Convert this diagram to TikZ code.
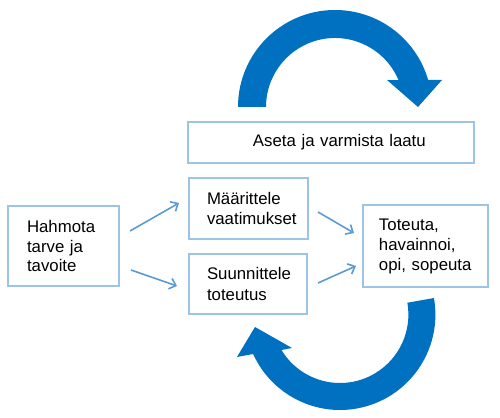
\documentclass[tikz,border=0pt]{standalone}
\usepackage{fontspec}
\setmainfont{Liberation Sans}
\usepackage{xcolor}
\usepackage{tikz}
\usetikzlibrary{arrows.meta}

\definecolor{boxline}{HTML}{9DC3E6}
\definecolor{linkline}{HTML}{5B9BD5}
\definecolor{cycleblue}{HTML}{0070C0}

\begin{document}
\begin{tikzpicture}[x=0.5pt, y=0.5pt,
    box/.style={draw=boxline, line width=1pt, fill=white, align=left,
        inner ysep=0pt, font=\fontsize{8.4}{10}\selectfont},
    link/.style={draw=linkline, line width=0.8pt,
        -{Straight Barb[length=3pt, width=5.5pt]}},
    cyclearrow/.style={fill=cycleblue}]
    \useasboundingbox (0, 0) rectangle (500, 418);

    % nodes
    \node [box, inner xsep=9.5pt, text width=36.5pt, minimum height=40pt]
        (hahmota) at (63.5, 172) {Hahmota\\tarve ja\\tavoite};
    \node [box, inner xsep=9pt, text width=41.5pt, minimum height=30.5pt]
        (maarittele) at (248.5, 209.5) {Määrittele\\vaatimukset};
    \node [box, inner xsep=9pt, text width=41pt, minimum height=30pt]
        (suunnittele) at (248, 134) {Suunnittele\\toteutus};
    \node [box, inner xsep=32.5pt, text width=78pt, minimum height=20.5pt]
        (aseta) at (331, 275.5) {\mbox{Aseta ja varmista laatu}};
    \node [box, inner xsep=8pt, text width=46.5pt, minimum height=41pt]
        (toteuta) at (425.5, 172) {Toteuta,\\havainnoi,\\opi, sopeuta};

    % connectors
    \draw [link] ([shift={(10, 15)}]hahmota.east) -- ([shift={(-9, 5.5)}]maarittele.west);
    \draw [link] ([shift={(11, -24)}]hahmota.east) -- ([shift={(-11, -2)}]suunnittele.west);
    \draw [link] ([shift={(9, -3.5)}]maarittele.east) -- ([shift={(-8, 13)}]toteuta.west);
    \draw [link] ([shift={(10, 1)}]suunnittele.east) -- ([shift={(-6, -20)}]toteuta.west);

    % upper round arrow
    \begin{scope}[shift={(335, 311)}]
        \fill [cyclearrow] (180:97) arc [start angle=180, end angle=16.2, radius=97]
            -- (107, 27) -- (83, 0) -- (52, 27) -- (23:69)
            arc [start angle=23, end angle=180, radius=69] -- cycle;
    \end{scope}

    % lower round arrow
    \begin{scope}[shift={(340, 103.4)}]
        \fill [cyclearrow] (10:95.4) arc [start angle=10, end angle=-155.6, radius=95.4]
            -- (-103, -42.4) -- (-85, -12.4) -- (-48, -33.4) -- (-148.8:68.4)
            arc [start angle=-148.8, end angle=10, radius=68.4] -- cycle;
    \end{scope}
\end{tikzpicture}
\end{document}
